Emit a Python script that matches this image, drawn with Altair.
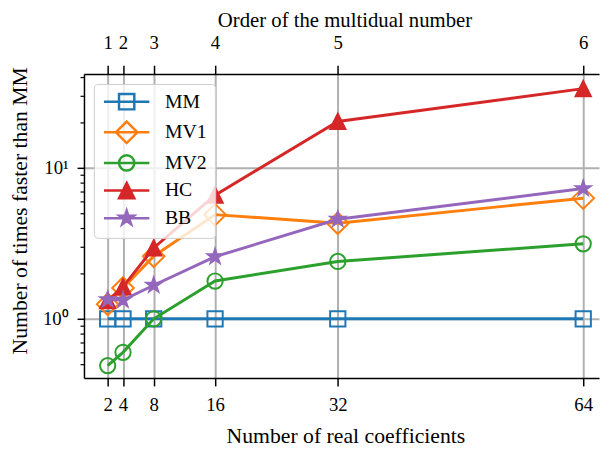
import math
import altair as alt
import pandas as pd

# ---- data ----
x_vals = [2, 4, 8, 16, 32, 64]
order_labels = ["1", "2", "3", "4", "5", "6"]
series_names = ["MM", "MV1", "MV2", "HC", "BB"]
mm = [1.0, 1.0, 1.0, 1.0, 1.0, 1.0]
mv1 = [1.25, 1.6, 2.6, 4.9, 4.3, 6.3]
mv2 = [0.49, 0.6, 1.0, 1.78, 2.4, 3.14]
hc = [1.32, 1.63, 2.95, 6.6, 20.3, 33.5]
bb = [1.34, 1.33, 1.67, 2.58, 4.57, 7.3]
y_major = [1, 10]
y_major_labels = ["10⁰", "10¹"]
y_minor = [0.5, 0.6, 0.7, 0.8, 0.9, 2, 3, 4, 5, 6, 7, 8, 9, 20, 30, 40]

colors = ["#1f77b4", "#ff7f0e", "#2ca02c", "#d62728", "#9467bd"]
marker_kinds = ["square", "diamond", "circle", "triangle", "star"]
is_filled = [False, False, False, True, True]

FONT = "Liberation Serif"
W, H = 522, 308
X_DOMAIN = [-1.09, 66.06]
Y_DOMAIN = [0.4055, 41.8]

rows = []
for name, vals in zip(series_names, [mm, mv1, mv2, hc, bb]):
    for xv, yv in zip(x_vals, vals):
        rows.append({"series": name, "x": xv, "y": yv})
df = pd.DataFrame(rows)


def marker_path(kind, cx=0.0):
    if kind == "square":
        return f"M{cx-1:.3f},-1H{cx+1:.3f}V1H{cx-1:.3f}Z"
    if kind == "diamond":
        d = 1.414
        return f"M{cx:.3f},{-d}L{cx+d:.3f},0L{cx:.3f},{d}L{cx-d:.3f},0Z"
    if kind == "circle":
        return f"M{cx+1:.3f},0A1,1,0,1,1,{cx-1:.3f},0A1,1,0,1,1,{cx+1:.3f},0Z"
    if kind == "triangle":
        return f"M{cx:.3f},-1L{cx+1:.3f},1L{cx-1:.3f},1Z"
    pts = []
    for k in range(10):
        ang = math.radians(90 + 36 * k)
        r = 1.0 if k % 2 == 0 else 0.382
        pts.append((cx + r * math.cos(ang), -r * math.sin(ang)))
    return "M" + "L".join(f"{px:.3f},{py:.3f}" for px, py in pts) + "Z"


legend_paths = ["M-1,0H4.94" + marker_path(k, 1.97) for k in marker_kinds]
fill_range = [c if f else "transparent" for c, f in zip(colors, is_filled)]

top_expr = " : ".join(f"datum.value == {v} ? '{l}'" for v, l in zip(x_vals, order_labels)) + " : ''"
y_expr = " : ".join(f"datum.value == {v} ? '{l}'" for v, l in zip(y_major, y_major_labels)) + " : ''"

x_scale = alt.Scale(domain=X_DOMAIN, nice=False, zero=False)
y_scale = alt.Scale(type="log", domain=Y_DOMAIN, nice=False)

common_axis = dict(
    labelFont=FONT, titleFont=FONT, labelFontSize=19, titleFontSize=22,
    labelColor="black", titleColor="black", titleFontWeight="normal",
    domainColor="black", domainWidth=1.5, tickColor="black", tickWidth=1.5,
    gridColor="#b0b0b0", gridWidth=2, labelOverlap=False, labelFlush=False,
)
top_axis_style = dict(common_axis, titleFontSize=21)

x_bottom_axis = alt.Axis(
    values=x_vals, title="Number of real coefficients", grid=True,
    tickSize=8, labelPadding=10, orient="bottom",
    titleX=265, titleY=58, titleBaseline="middle", titleAlign="center",
    **common_axis,
)
x_top_axis = alt.Axis(
    values=x_vals, labelExpr=top_expr, title="Order of the multidual number",
    grid=False, tickSize=9, labelPadding=13, orient="top",
    titleX=264, titleY=-54, titleBaseline="middle", titleAlign="center",
    **top_axis_style,
)
y_axis = alt.Axis(
    values=y_major, labelExpr=y_expr,
    title="Number of times faster than MM", grid=True,
    tickSize=7, labelPadding=9, orient="left",
    titleX=-65, titleY=138, titleBaseline="middle", titleAlign="center", titleAngle=270,
    **common_axis,
)
y_minor_axis = alt.Axis(
    values=y_minor, labels=False, title=None, grid=False, domain=False,
    tickSize=4, tickColor="black", tickWidth=1.2, orient="left",
)

base = alt.Chart(df)
layers = []
for i, name in enumerate(series_names):
    sub = base.transform_filter(alt.datum.series == name)
    line = sub.mark_line(color=colors[i], strokeWidth=3).encode(
        x=alt.X("x:Q", scale=x_scale, axis=x_bottom_axis if i == 0 else None),
        y=alt.Y("y:Q", scale=y_scale, axis=y_axis if i == 0 else None),
    )
    pts = sub.mark_point(
        shape=marker_path(marker_kinds[i]), size=240, filled=True,
        fill=fill_range[i], stroke=colors[i], strokeWidth=2, opacity=1,
    ).encode(
        x=alt.X("x:Q", scale=x_scale, axis=x_top_axis if i == 0 else None),
        y=alt.Y("y:Q", scale=y_scale, axis=y_minor_axis if i == 0 else None),
    )
    layers += [line, pts]

leg = alt.Legend(
    title=None, orient="top-left", offset=10, padding=8, rowPadding=2,
    labelOffset=44, symbolSize=240, symbolStrokeWidth=2.5,
    labelFont=FONT, labelFontSize=20, labelColor="black", labelLimit=300,
    fillColor="rgba(255,255,255,0.8)", strokeColor="#cccccc", cornerRadius=4,
)
legend_layer = base.transform_filter("false").mark_point(
    filled=True, size=240, strokeWidth=2.5, opacity=1
).encode(
    x=alt.X("x:Q", scale=x_scale, axis=None),
    y=alt.Y("y:Q", scale=y_scale, axis=None),
    stroke=alt.Stroke("series:N", scale=alt.Scale(domain=series_names, range=colors), legend=leg),
    fill=alt.Fill("series:N", scale=alt.Scale(domain=series_names, range=fill_range), legend=leg),
    shape=alt.Shape("series:N", scale=alt.Scale(domain=series_names, range=legend_paths), legend=leg),
)
layers.append(legend_layer)

chart = alt.layer(*layers).resolve_axis(x="independent", y="independent").properties(
    width=W, height=H,
    autosize=alt.AutoSizeParams(type="none"),
    padding={"left": 77, "top": 64, "right": 2, "bottom": 72},
).configure_view(stroke="transparent")

chart.save("out.html", embed_options={"renderer": "svg", "actions": False})
